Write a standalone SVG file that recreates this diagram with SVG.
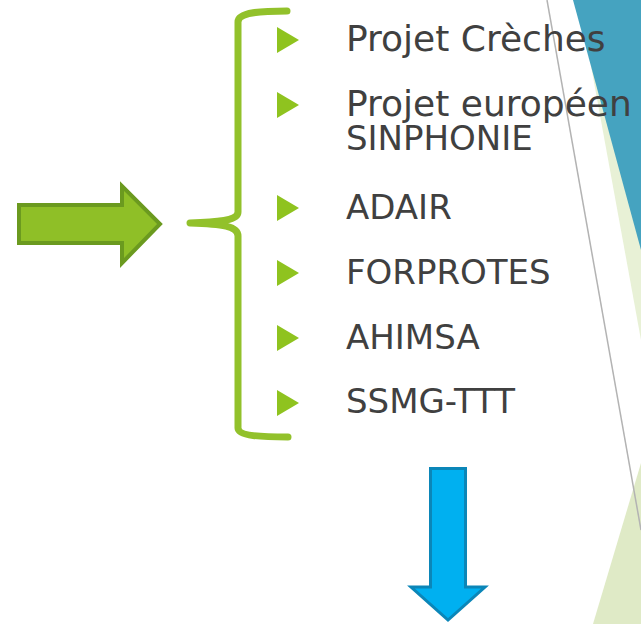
<svg xmlns="http://www.w3.org/2000/svg" width="641" height="624" viewBox="0 0 641 624">
<style>
.t{font-family:"DejaVu Sans","Liberation Sans",sans-serif;fill:#404040;font-size:34px}
.b{fill:#8fc31f}
</style>
<rect width="641" height="624" fill="#ffffff"/>
<g id="background">
<polygon points="579,0 641,0 641,340" fill="#e8f1d6"/>
<polygon points="573,0 641,0 641,250" fill="#45a3c0"/>
<polygon points="641,463 641,624 593,624" fill="#dfeac6"/>
<line x1="547" y1="0" x2="641" y2="530" stroke="#b3b3b3" stroke-width="1.5"/>
</g>
<g id="connectors">
<g id="arrow-right">
<polygon points="19,205 122,205 122,186 160,224 122,263 122,243 19,243" fill="#8fbf27" stroke="#6b9a1f" stroke-width="4" stroke-linejoin="miter"/>
</g>
<g id="brace">
<path d="M287,11 C262,11 238,12 238,22 L238,212 C238,220 222,222 190,223 C222,224 238,226 238,236 L238,428 C238,436 262,437 288,437" fill="none" stroke="#92c12b" stroke-width="7" stroke-linecap="round" stroke-linejoin="round"/>
</g>
<g id="arrow-down">
<polygon points="430.5,468.5 465.5,468.5 465.5,587 485,587 448,620 411,587 430.5,587" fill="#00b0f0" stroke="#0b86b8" stroke-width="3"/>
</g>
</g>
<g id="item1"><polygon class="b" points="277,27 299,40 277,53"/><text class="t" x="346" y="51" style="font-size:36px">Projet Crèches</text></g>
<g id="item2"><polygon class="b" points="277,92 299,105 277,118"/><text class="t" x="346" y="116" style="font-size:36px">Projet européen</text><text class="t" x="346" y="150">SINPHONIE</text></g>
<g id="item3"><polygon class="b" points="277,195 299,208 277,221"/><text class="t" x="346" y="219">ADAIR</text></g>
<g id="item4"><polygon class="b" points="277,260 299,273 277,286"/><text class="t" x="346" y="284">FORPROTES</text></g>
<g id="item5"><polygon class="b" points="277,325 299,338 277,351"/><text class="t" x="346" y="349">AHIMSA</text></g>
<g id="item6"><polygon class="b" points="277,390 299,403 277,416"/><text class="t" x="346" y="413">SSMG-TTT</text></g>
</svg>
